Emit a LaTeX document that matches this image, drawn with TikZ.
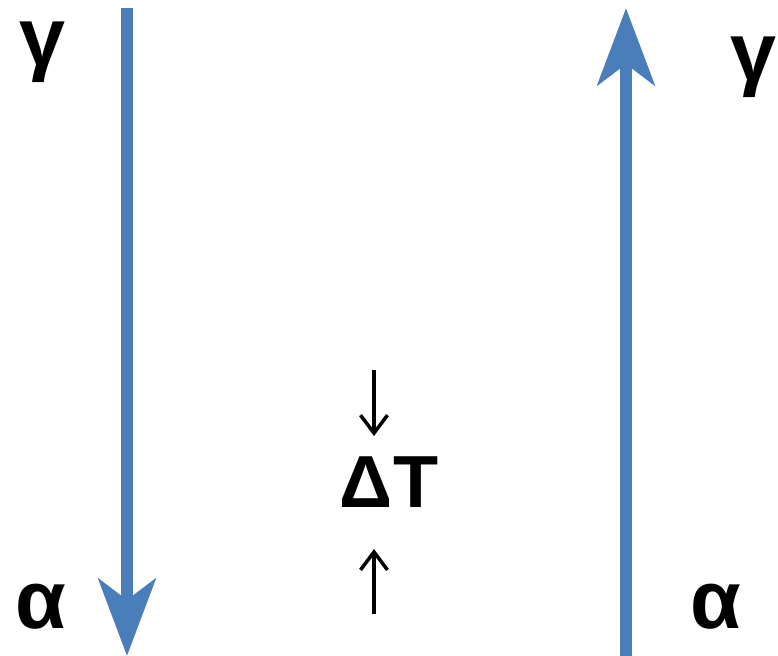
\documentclass[tikz,border=0pt]{standalone}
\usepackage{fontspec}
\setmainfont{Liberation Sans}
\usetikzlibrary{arrows.meta}
\definecolor{phaseblue}{HTML}{4A7EBB}
\begin{document}
\begin{tikzpicture}[x=0.02cm, y=-0.02cm,
    lbl/.style={inner sep=0pt, font=\fontsize{47}{50}\selectfont\bfseries},
    bigarrow/.style={draw=phaseblue, line width=0.25cm,
      -{Stealth[length=1.54cm, width=1.14cm, inset=0.42cm]}},
    smallarrow/.style={draw=black, line width=0.07cm,
      -{Straight Barb[length=0.36cm, width=0.54cm]}}]
  \useasboundingbox (0,0) rectangle (778,656);
  % cooling on the left, heating on the right
  \coordinate (ctop) at (127,8);
  \coordinate (cbot) at (127,656);
  \coordinate (hbot) at (626,656);
  \coordinate (htop) at (626,8);
  \draw[bigarrow] (ctop) -- (cbot);
  \draw[bigarrow] (hbot) -- (htop);
  \node[lbl] (gl) at (42,52) {γ};
  \node[lbl] (al) at (41,607) {α};
  \node[lbl] (gr) at (753,67) {γ};
  \node[lbl] (ar) at (716,607) {α};
  % hysteresis gap
  \node[lbl, font=\fontsize{42}{46}\selectfont\bfseries] (dt) at (389,482) {ΔT};
  \coordinate (d1) at (374,370);
  \coordinate (d2) at (374,436);
  \coordinate (u1) at (374,614);
  \coordinate (u2) at (374,549);
  \draw[smallarrow] (d1) -- (d2);
  \draw[smallarrow] (u1) -- (u2);
\end{tikzpicture}
\end{document}
